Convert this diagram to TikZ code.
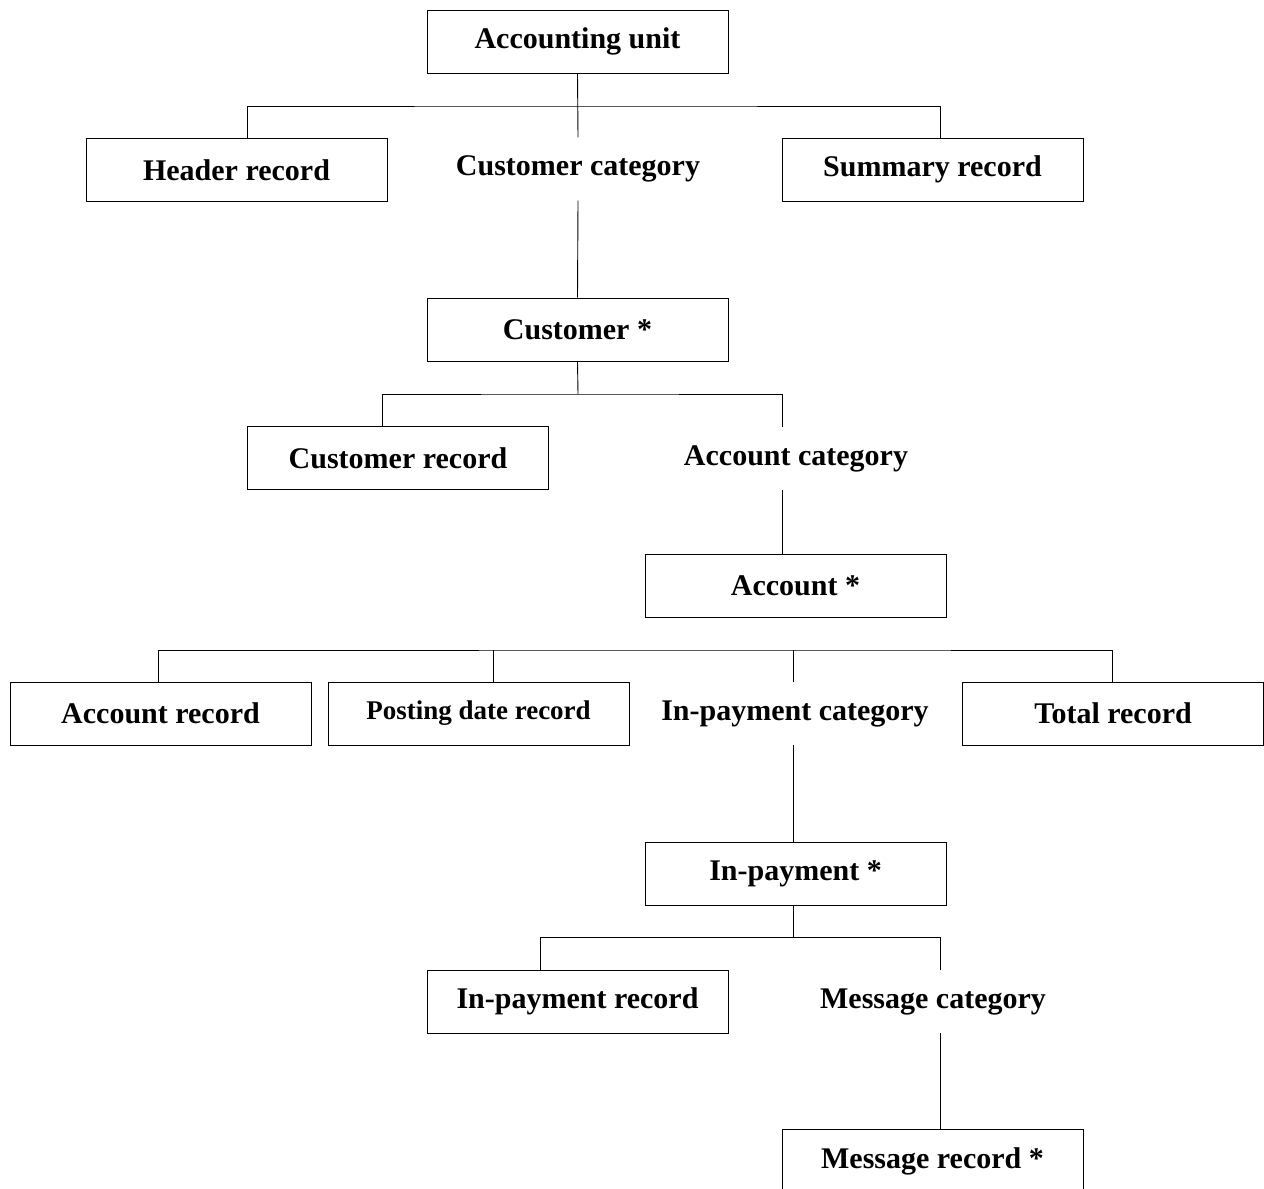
\documentclass[tikz,border=0pt]{standalone}
\usepackage{fontspec}
\setmainfont{Liberation Serif}
\begin{document}
\begin{tikzpicture}[x=1pt,y=-1pt,
  box/.style={draw,line width=0.9pt,minimum width=301pt,minimum height=63pt,inner sep=0pt,font=\fontsize{30}{34}\selectfont\bfseries},
  cat/.style={minimum width=301pt,minimum height=63pt,inner sep=0pt,font=\fontsize{30}{34}\selectfont\bfseries},
  conn/.style={line width=0.9pt}]
\useasboundingbox (0,0) rectangle (1264,1189);
\node[box] (au) at (577.5,41.5) {Accounting unit};
\node[box] (hr) at (236.5,170) {Header record};
\node[cat] (cc) at (578,169) {Customer category};
\node[box] (sr) at (932.5,169.5) {Summary record};
\node[box] (cu) at (577.5,329.5) {Customer *};
\node[box] (cr) at (398,458) {Customer record};
\node[cat] (ac) at (796,458.5) {Account category};
\node[box] (a) at (795.5,586) {Account *};
\node[box] (ar) at (160.5,713.5) {Account record};
\node[box,font=\fontsize{27}{31}\selectfont\bfseries] (pd) at (478.5,713.5) {Posting date record};
\node[cat] (ipc) at (795,713.5) {In-payment category};
\node[box] (tr) at (1113,713.5) {Total record};
\node[box] (ip) at (795.5,874) {In-payment *};
\node[box] (ipr) at (577.5,1001.5) {In-payment record};
\node[cat] (mc) at (933,1001.5) {Message category};
\node[box] (mr) at (932.5,1161) {Message record *};
\coordinate (b1) at (578,106);
\coordinate (b2) at (578,394);
\coordinate (b3) at (793,650);
\coordinate (b4) at (793,937);
\draw[conn] (au.south) -- (cc.north);
\draw[conn] ([xshift=10.5pt]hr.north) |- (b1) -| ([xshift=7.5pt]sr.north);
\draw[conn] (cc.south) -- (cu.north);
\draw[conn] (cu.south) -- (b2);
\draw[conn] ([xshift=-16pt]cr.north) |- (b2) -| ([xshift=-14pt]ac.north);
\draw[conn] ([xshift=-14pt]ac.south) -- ([xshift=-13.5pt]a.north);
\draw[conn] ([xshift=-2.5pt]ar.north) |- (b3) -| ([xshift=-1pt]tr.north);
\draw[conn] ([xshift=14.5pt]pd.north) -- ([xshift=14.5pt]pd.north |- b3);
\draw[conn] ([xshift=-2pt]ipc.north) -- ([xshift=-2pt]ipc.north |- b3);
\draw[conn] ([xshift=-2pt]ipc.south) -- ([xshift=-2.5pt]ip.north);
\draw[conn] ([xshift=-2.5pt]ip.south) -- (b4);
\draw[conn] ([xshift=-37.5pt]ipr.north) |- (b4) -| ([xshift=7pt]mc.north);
\draw[conn] ([xshift=7pt]mc.south) -- ([xshift=7.5pt]mr.north);
\end{tikzpicture}
\end{document}
